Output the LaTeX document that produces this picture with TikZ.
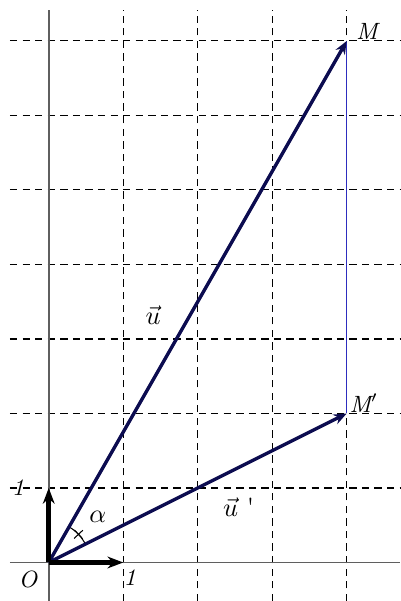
\documentclass[tikz,border=0pt]{standalone}
\usetikzlibrary{arrows.meta,calc}
\definecolor{vecnavy}{RGB}{12,12,80}
\definecolor{axgray}{RGB}{95,95,95}
\definecolor{segblue}{RGB}{45,45,190}
\tikzset{
  gridline/.style={black, line width=0.4pt, dash pattern=on 2.8pt off 2pt},
  axisline/.style={axgray, line width=0.6pt},
  vecline/.style={vecnavy, line width=1.3pt, -{Stealth[length=5pt,width=4pt]}},
  unitvec/.style={black, line width=1.7pt, -{Stealth[length=6pt,width=4.5pt]}},
  ptlabel/.style={font=\itshape\small, inner sep=0pt},
}
\begin{document}
\begin{tikzpicture}
\useasboundingbox (-0.654,-0.517) rectangle (4.716,7.550);
% grid
\foreach \y in {1,...,7} \draw[gridline] (-0.52,\y) -- (4.716,\y);
\foreach \x in {1,...,4} \draw[gridline] (\x,-0.517) -- (\x,7.416);
% axes
\draw[axisline] (-0.52,0) -- (4.716,0);
\draw[axisline] (0,-0.517) -- (0,7.416);
% points
\coordinate (O) at (0,0);
\coordinate (M) at (4,7);
\coordinate (Mp) at (4,2);
\coordinate (I) at (1,0);
\coordinate (J) at (0,1);
% segment M M'
\draw[segblue, line width=0.5pt] (M) -- (Mp);
% angle mark
\draw[black, line width=0.4pt] (26.57:0.55) arc[start angle=26.57, end angle=60.26, radius=0.55];
\draw[black, line width=0.4pt] (43.4:0.47) -- (43.4:0.63);
\draw[black, line width=0.4pt] ($(43.4:0.55)+(133.4:0.08)$) -- ($(43.4:0.55)+(-46.6:0.08)$);
% vectors
\draw[vecline] (O) -- (M);
\draw[vecline] (O) -- (Mp);
\draw[unitvec] (O) -- (I);
\draw[unitvec] (O) -- (J);
% labels
\node[ptlabel] (lM) at (4.27,7.13) {M};
\node[ptlabel] (lMp) at (4.23,2.14) {M$'$};
\node[ptlabel] (lO) at (-0.28,-0.23) {O};
\node[ptlabel] (l1x) at (1.09,-0.21) {1};
\node[ptlabel] (l1y) at (-0.41,1.0) {1};
\node[inner sep=0pt] (la) at (0.66,0.61) {$\alpha$};
\node[inner sep=0pt] (lu) at (1.40,3.32) {$\vec{u}$};
\node[inner sep=0pt] (lup) at (2.55,0.74) {$\vec{u}$\,\,\textquotesingle};
\end{tikzpicture}
\end{document}
